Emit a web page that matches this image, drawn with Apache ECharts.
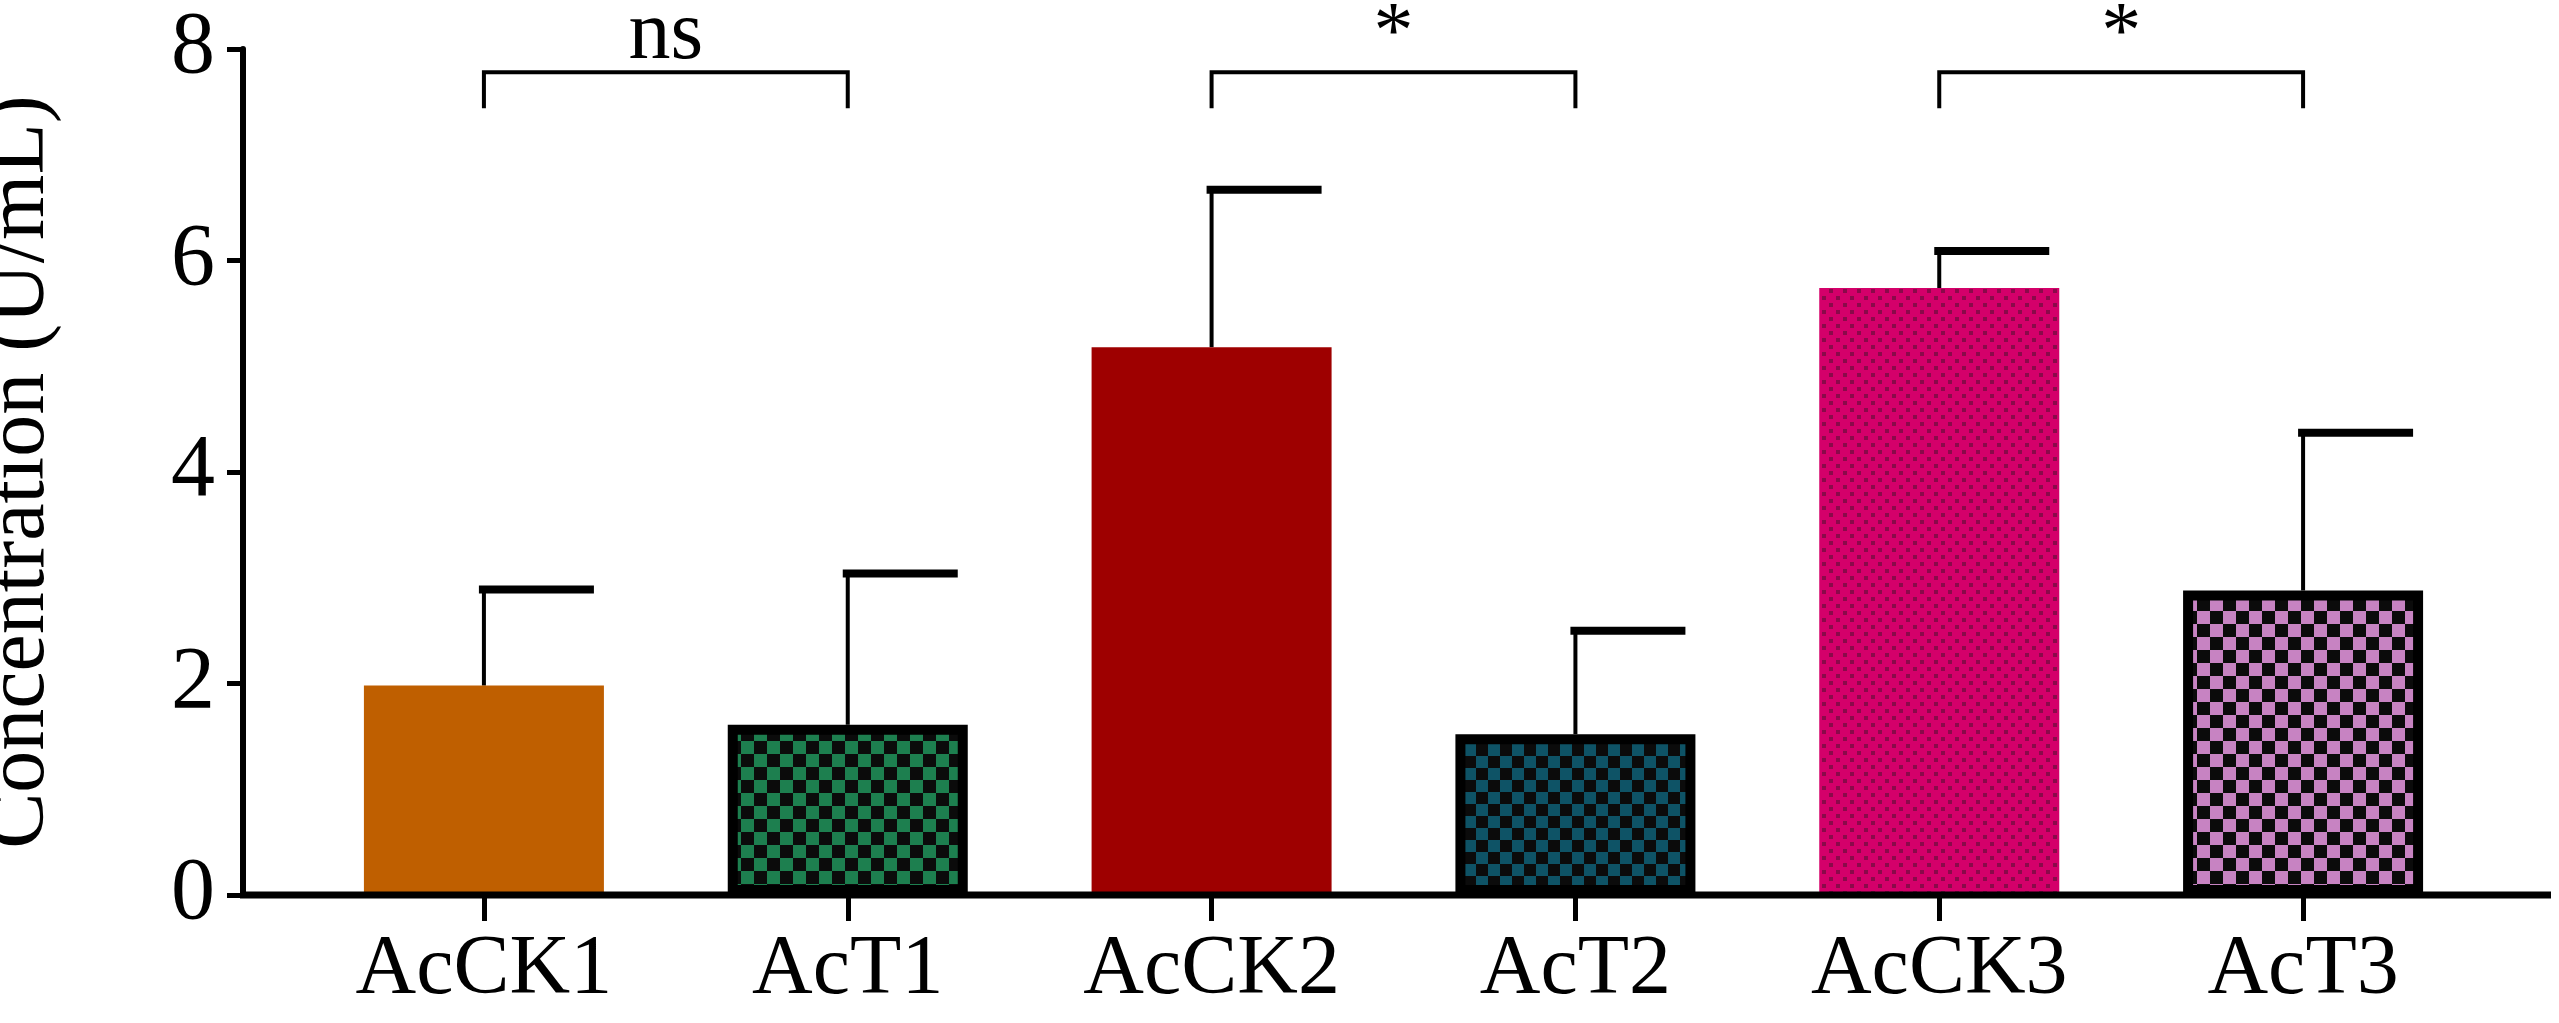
<!DOCTYPE html>
<html>
<head>
<meta charset="utf-8">
<script src="https://cdn.jsdelivr.net/npm/echarts@6/dist/echarts.min.js"></script>
<style>html,body{margin:0;background:#fff}#main{width:2559px;height:1023px}</style>
</head>
<body>
<div id="main"></div>
<script>
var categories = ['AcCK1', 'AcT1', 'AcCK2', 'AcT2', 'AcCK3', 'AcT3'];
var means = [1.98, 1.61, 5.18, 1.52, 5.74, 2.88];
var upper = [2.89, 3.04, 6.67, 2.50, 6.09, 4.37];
// pairs compared: [from, to, label]
var brackets = [[0, 1, 'ns'], [2, 3, '*'], [4, 5, '*']];
var yTicks = [0, 2, 4, 6, 8];

var FONT = '"Liberation Serif", "DejaVu Serif", serif';

// small canvas tiles for the bar fills
function checker(c1, c2, size) {
    var cv = document.createElement('canvas');
    cv.width = cv.height = size * 2;
    var ctx = cv.getContext('2d');
    ctx.fillStyle = c1; ctx.fillRect(0, 0, size * 2, size * 2);
    ctx.fillStyle = c2;
    ctx.fillRect(0, 0, size, size);
    ctx.fillRect(size, size, size, size);
    return cv;
}
function dots(bg, dot) {
    var cv = document.createElement('canvas');
    cv.width = 14; cv.height = 14;
    var ctx = cv.getContext('2d');
    ctx.fillStyle = bg; ctx.fillRect(0, 0, 14, 14);
    ctx.fillStyle = dot;
    ctx.fillRect(2, 2, 4, 4);
    ctx.fillRect(9, 9, 4, 4);
    return cv;
}
var fills = [
    {color: '#BF5F00', border: '#BF5F00'},
    {color: {image: checker('#0b0b0b', '#1d7f4f', 13), repeat: 'repeat'}, border: '#000'},
    {color: '#9E0000', border: '#9E0000'},
    {color: {image: checker('#0b0b0b', '#0e5366', 12), repeat: 'repeat'}, border: '#000'},
    {color: {image: dots('#D4006A', '#8a0a4a'), repeat: 'repeat'}, border: '#D4006A'},
    {color: {image: checker('#0b0b0b', '#c783c2', 13), repeat: 'repeat'}, border: '#000'}
];

var barData = means.map(function (v, i) {
    return {value: v, itemStyle: {color: fills[i].color, borderColor: fills[i].border, borderWidth: fills[i].border === '#000' ? 10 : 0}};
});

var chart = echarts.init(document.getElementById('main'));
var option = {
    animation: false,
    grid: {left: 302, right: 74, top: 49, bottom: 128, containLabel: false, outerBoundsMode: 'none'},
    xAxis: {
        type: 'category',
        data: categories,
        axisLine: {show: false},
        axisTick: {show: true, alignWithLabel: true, length: 26, lineStyle: {color: '#000', width: 5}},
        axisLabel: {color: '#000', fontFamily: FONT, fontSize: 84, margin: 34}
    },
    yAxis: {
        type: 'value', min: 0, max: 8, interval: 2,
        offset: 59,
        name: 'Concentration (U/mL)',
        nameLocation: 'middle', nameGap: 180,
        nameTextStyle: {color: '#000', fontFamily: FONT, fontSize: 84},
        splitLine: {show: false},
        axisLine: {show: true, lineStyle: {color: '#000', width: 6}},
        axisTick: {show: true, length: 16, lineStyle: {color: '#000', width: 5}},
        axisLabel: {color: '#000', fontFamily: FONT, fontSize: 88, margin: 28,
            formatter: function (v) { return yTicks.indexOf(v) >= 0 ? String(v) : ''; }}
    },
    series: [
        {
            type: 'custom', z: 1,
            data: upper.map(function (u, i) { return [i, means[i], u]; }),
            renderItem: function (params, api) {
                var lo = api.coord([api.value(0), api.value(1)]);
                var hi = api.coord([api.value(0), api.value(2)]);
                return {type: 'group', children: [
                    {type: 'line', shape: {x1: lo[0], y1: lo[1], x2: hi[0], y2: hi[1]}, style: {stroke: '#000', lineWidth: 4}},
                    {type: 'line', shape: {x1: hi[0] - 5, y1: hi[1], x2: hi[0] + 110, y2: hi[1]}, style: {stroke: '#000', lineWidth: 8}}
                ]};
            }
        },
        {
            type: 'bar', z: 2, barWidth: 240,
            data: barData
        },
        {
            type: 'custom', z: 3,
            data: brackets,
            renderItem: function (params, api) {
                var a = api.coord([api.value(0), 7.78]);
                var b = api.coord([api.value(1), 7.78]);
                var d = api.coord([api.value(0), 7.44]);
                var lbl = brackets[params.dataIndex][2];
                return {type: 'group', children: [
                    {type: 'polyline', shape: {points: [[a[0], d[1]], [a[0], a[1]], [b[0], a[1]], [b[0], d[1]]]},
                        style: {stroke: '#000', lineWidth: 4, fill: null}},
                    {type: 'text', style: {text: lbl, x: (a[0] + b[0]) / 2, y: a[1] + (lbl === '*' ? 4 : 6),
                        align: 'center', verticalAlign: 'bottom', fill: '#000',
                        fontFamily: FONT, fontSize: lbl === '*' ? 80 : 84}}
                ]};
            }
        }
    ]
};
chart.setOption(option);

// x axis baseline runs from the y axis to the right edge
var zeroY = chart.convertToPixel({yAxisIndex: 0}, 0);
chart.setOption({graphic: [{type: 'line', shape: {x1: 240, y1: zeroY, x2: 2551, y2: zeroY},
    style: {stroke: '#000', lineWidth: 7}, z: 10}]});
</script>
</body>
</html>
